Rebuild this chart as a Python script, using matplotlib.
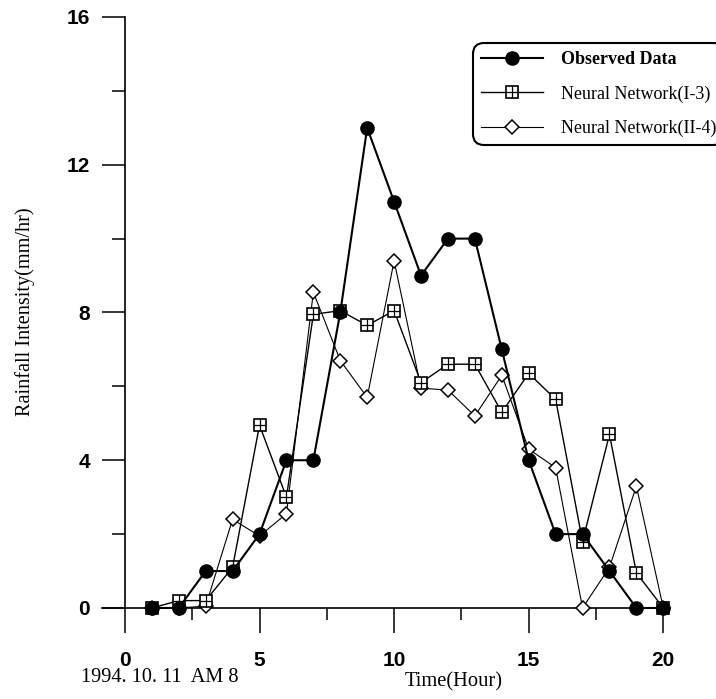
import matplotlib
matplotlib.use("Agg")
import matplotlib.pyplot as plt
from matplotlib.ticker import MultipleLocator

# hourly rainfall, 1994.10.11 starting AM 8
hours = list(range(1, 21))
observed = [0, 0, 1, 1, 2, 4, 4, 8, 13, 11, 9, 10, 10, 7, 4, 2, 2, 1, 0, 0]
nn_i3 = [0, 0.2, 0.2, 1.1, 4.95, 3.0, 7.95, 8.05, 7.65, 8.05, 6.1, 6.6, 6.6,
         5.3, 6.35, 5.65, 1.8, 4.7, 0.95, 0]
nn_ii4 = [0, 0, 0.05, 2.4, 1.95, 2.55, 8.55, 6.7, 5.7, 9.4, 5.95, 5.9, 5.2,
          6.3, 4.3, 3.8, 0, 1.1, 3.3, 0]

series_labels = ["Observed Data", "Neural Network(I-3)", "Neural Network(II-4)"]
x_label = "Time(Hour)"
y_label = "Rainfall Intensity(mm/hr)"
date_note = "1994. 10. 11  AM 8"

plt.rcParams["font.family"] = "Liberation Sans"
plt.rcParams["font.weight"] = "bold"

fig = plt.figure(figsize=(7.16, 6.99), dpi=100)
ax = fig.add_axes([0.1425, 0.1302, 0.7933, 0.8455])
ax.set_xlim(-0.85, 20.25)
ax.set_ylim(0, 16)

dia_line, = ax.plot(hours, nn_ii4, color="black", lw=0.8, marker="D", ms=7,
                    mfc="white", mec="black", mew=1.1, clip_on=False, zorder=3)
sq_line, = ax.plot(hours, nn_i3, color="black", lw=1.0, marker="s", ms=9,
                   mfc="white", mec="black", mew=1.2, clip_on=False, zorder=4)
plus_line, = ax.plot(hours, nn_i3, ls="none", marker="+", ms=9, mec="black",
                     mew=0.9, clip_on=False, zorder=4.1)
obs_line, = ax.plot(hours, observed, color="black", lw=1.5, marker="o", ms=9.5,
                    clip_on=False, zorder=5)

# axes look
ax.spines["top"].set_visible(False)
ax.spines["right"].set_visible(False)
ax.spines["left"].set_position(("data", 0))
ax.spines["left"].set_bounds(0, 16)
ax.spines["left"].set_linewidth(1.2)
ax.spines["bottom"].set_linewidth(1.2)

ax.xaxis.set_major_locator(MultipleLocator(5))
ax.xaxis.set_minor_locator(MultipleLocator(2.5))
ax.yaxis.set_major_locator(MultipleLocator(4))
ax.yaxis.set_minor_locator(MultipleLocator(2))
ax.tick_params(axis="x", which="major", length=18, width=1.1, pad=13, labelsize=15)
ax.tick_params(axis="x", which="minor", length=8.6, width=1.1)
ax.tick_params(axis="y", which="major", length=16.5, width=1.1, pad=8.6, labelsize=15)
ax.tick_params(axis="y", which="minor", length=9.4, width=1.1)

serif = {"family": "Liberation Serif", "weight": "normal"}
fig.text(25 / 716, 1 - 312 / 699, y_label, rotation=90, ha="center", va="center",
         size=14.6, **serif)
fig.text(454 / 716, 1 - 682 / 699, x_label, ha="center", va="center", size=14.8, **serif)
fig.text(160 / 716, 1 - 678 / 699, date_note, ha="center", va="center", size=14.6, **serif)

leg = fig.legend([obs_line, (sq_line, plus_line), dia_line], series_labels,
                 loc="upper left", bbox_to_anchor=(0.6606, 0.9385),
                 handlelength=3.4, handletextpad=1.0, labelspacing=0.95,
                 borderpad=0.45, borderaxespad=0, fancybox=True,
                 edgecolor="black", framealpha=1,
                 prop={"family": "Liberation Serif", "weight": "normal", "size": 13})
leg.get_frame().set_linewidth(1.5)
leg.get_frame().set_boxstyle("round,pad=0,rounding_size=0.6")
leg.get_texts()[0].set_fontweight("bold")

fig.savefig("out.png", dpi=100)
